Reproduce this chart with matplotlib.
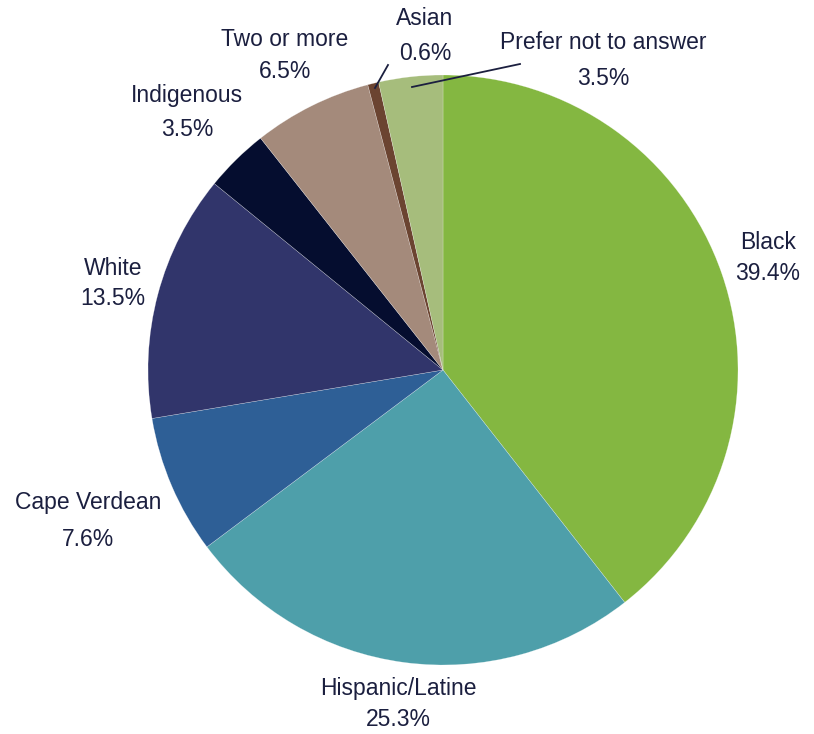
import matplotlib.pyplot as plt

categories = ["Black", "Hispanic/Latine", "Cape Verdean", "White", "Indigenous",
              "Two or more", "Asian", "Prefer not to answer"]
shares = [39.4, 25.3, 7.6, 13.5, 3.5, 6.5, 0.6, 3.5]
colors = ["#84b741", "#4e9faa", "#2e5f96", "#31356b", "#050d2f",
          "#a48a7b", "#6b4431", "#a6bd7c"]

# label placement in pixels (name line, value line)
label_px = {
    "Black": ((768, 242), (768, 273)),
    "Hispanic/Latine": ((398, 688), (398, 720)),
    "Cape Verdean": ((88, 503), (88, 540)),
    "White": ((113, 268), (113, 298)),
    "Indigenous": ((187, 95), (187, 129)),
    "Two or more": ((285, 39), (285, 71)),
    "Asian": ((425, 18), (425, 53)),
    "Prefer not to answer": ((603, 42), (603, 78)),
}
leaders = {
    "Asian": ((388, 65), (375, 88)),
    "Prefer not to answer": ((520, 64), (412, 87)),
}

W, H = 814, 734
cx, cy, r = 443, 370, 295
text_color = "#1b1f3f"


def to_data(p):
    return (p[0] - cx) / r, (cy - p[1]) / r


fig = plt.figure(figsize=(W / 100, H / 100), dpi=100)
ax = fig.add_axes([0, 0, 1, 1])
ax.pie(shares, colors=colors, startangle=90, counterclock=False,
       wedgeprops=dict(edgecolor=(1, 1, 1, 0.5), linewidth=0.3))
ax.set_xlim(-cx / r, (W - cx) / r)
ax.set_ylim(-(H - cy) / r, cy / r)
ax.set_aspect("equal")
ax.axis("off")

font = dict(ha="center", va="center", fontsize=16.5, color=text_color,
            family="Liberation Sans")
for name, val in zip(categories, shares):
    p1, p2 = label_px[name]
    ax.text(*to_data(p1), name, **font)
    ax.text(*to_data(p2), f"{val}%", **font)

for name, (a, b) in leaders.items():
    xa, ya = to_data(a)
    xb, yb = to_data(b)
    ax.plot([xa, xb], [ya, yb], color=text_color, lw=1.3)

fig.savefig("out.png", dpi=100)
